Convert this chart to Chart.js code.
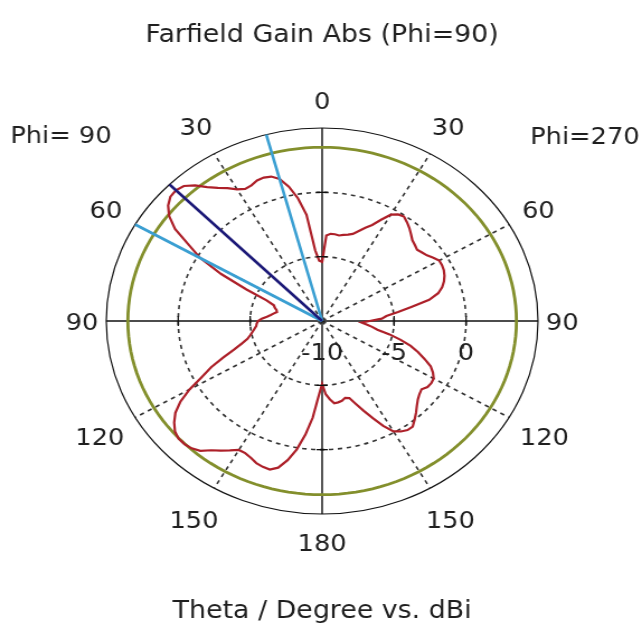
<!DOCTYPE html>
<html>
<head>
<meta charset="utf-8">
<title>Farfield Gain Abs (Phi=90)</title>
<script src="https://cdn.jsdelivr.net/npm/chart.js@4.4.1/dist/chart.umd.min.js"></script>
<style>
  html, body { margin: 0; padding: 0; background: #ffffff; overflow: hidden; }
  /* the polar plot is drawn slightly wider than tall */
  #wrap { width: 574px; height: 636px; transform: scaleX(1.1185); transform-origin: 0 0; }
  canvas { display: block; }
</style>
</head>
<body>
<div id="wrap"><canvas id="c" width="574" height="636"></canvas></div>
<script>
// Theta samples (degrees), shared by both cuts
const thetaDeg = [
  0, 2.5, 5, 7.5, 10, 12.5, 15, 17.5,
  20, 22.5, 25, 27.5, 30, 32.5, 35, 37.5,
  40, 42.5, 45, 47.5, 50, 52.5, 55, 57.5,
  60, 62.5, 65, 67.5, 70, 72.5, 75, 77.5,
  80, 82.5, 85, 87.5, 90, 92.5, 95, 97.5,
  100, 102.5, 105, 107.5, 110, 112.5, 115, 117.5,
  120, 122.5, 125, 127.5, 130, 132.5, 135, 137.5,
  140, 142.5, 145, 147.5, 150, 152.5, 155, 157.5,
  160, 162.5, 165, 167.5, 170, 172.5, 175, 177.5,
  180
];

// Gain (dBi) in the Phi=270 half-plane (right side)
const gainPhi270 = [
  -5.4, -3.35, -3.2, -3.2, -3.25, -3.15, -3.05, -2.9,
  -2.55, -2.15, -1.77, -1.13, -0.46, -0.18, -0.09, -0.32,
  -0.57, -0.86, -1.13, -1.26, -1.39, -1.25, -1.11, -0.84,
  -0.61, -0.61, -0.67, -0.8, -0.99, -1.25, -1.65, -2.38,
  -3.71, -4.68, -5.52, -5.85, -6.7, -7.25, -6.9, -6.5,
  -6.1, -5.2, -4.35, -3.55, -2.9, -2.3, -1.68, -1.32,
  -1.05, -1.01, -1.06, -1.29, -1.17, -0.98, -0.69, -0.34,
  0.0, 0.34, 0.35, 0.18, -0.09, -0.81, -1.67, -2.44,
  -3.14, -3.72, -3.82, -3.65, -3.58, -3.55, -3.9, -4.3,
  -5.1
];

// Gain (dBi) in the Phi=90 half-plane (left side)
const gainPhi90 = [
  -5.4, -5.3, -4.5, -1.68, -0.31, 0.69, 1.43, 1.77,
  1.86, 1.82, 1.63, 1.58, 1.82, 2.25, 2.63, 3.12,
  3.75, 4.23, 4.37, 4.3, 3.97, 3.4, 2.48, 0.95,
  -0.22, -2.09, -4.2, -5.82, -6.43, -6.55, -6.72, -6.78,
  -6.6, -6.4, -6.15, -5.8, -5.55, -5.45, -5.4, -5.25,
  -5.08, -4.88, -4.63, -4.14, -3.48, -2.55, -1.49, -0.58,
  0.64, 1.68, 2.45, 2.96, 3.35, 3.53, 3.53, 3.42,
  3.18, 2.66, 2.3, 1.93, 1.57, 1.58, 1.73, 1.95,
  2.06, 2.1, 1.8, 1.08, 0.13, -1.1, -2.45, -4.1,
  -5.1
];

// Axis annotation values
const angleTickLabels = [0, 30, 60, 90, 120, 150, 180];
const radialTickLabels = [-10, -5, 0];
const radialMin = -10;
const radialMax = 5;
const radialStep = 5;
const referenceLevel = 3.5;      // dBi, reference circle
const mainLobeTheta = 45;        // deg, Phi=90 side
const beamEdgeThetas = [15, 60]; // deg, Phi=90 side

// Colours
const textColor = '#1f1f1f';
const curveColor = '#ad2029';
const refColor = '#838f2c';
const mainLobeColor = '#1d1a78';
const beamEdgeColor = '#3a9fd2';
const fontFamily = '"DejaVu Sans", Verdana, sans-serif';

// Full circle, clockwise from the top: Phi=270 from theta 0 to 180, then Phi=90 from 180 back to 0
const lastIdx = thetaDeg.length - 1;
const labels = [
  ...thetaDeg.map(t => 'Phi=270 ' + t),
  ...thetaDeg.slice(1, lastIdx).reverse().map(t => 'Phi=90 ' + t)
];
const pointCount = labels.length;
const gainAround = [...gainPhi270, ...gainPhi90.slice(1, lastIdx).reverse()];

function indexRight(theta) { return thetaDeg.indexOf(theta); }
function indexLeft(theta) {
  const k = thetaDeg.indexOf(theta);
  return k === 0 ? 0 : (k === lastIdx ? lastIdx : pointCount - k);
}
function stepAngle(i) { return i * 360 / pointCount; }

function rayData(idx) {
  return labels.map((_, i) => (i === idx ? radialMax : radialMin));
}

const axisIdx = [0, 90, 180, 270].map(a => a * pointCount / 360);

const annotations = {
  id: 'polarAnnotations',
  afterDraw(chart) {
    const s = chart.scales.r;
    const ctx = chart.ctx;
    const R = s.drawingArea;
    ctx.save();

    // small tick marks on the main axes
    ctx.strokeStyle = '#111';
    ctx.lineWidth = 1.3;
    ctx.setLineDash([]);
    axisIdx.forEach(idx => {
      [-5, 0].forEach(v => {
        const p = s.getPointPositionForValue(idx, v);
        const px = -Math.sin(p.angle), py = Math.cos(p.angle);
        ctx.beginPath();
        ctx.moveTo(p.x - 5 * px, p.y - 5 * py);
        ctx.lineTo(p.x + 5 * px, p.y + 5 * py);
        ctx.stroke();
      });
    });

    ctx.fillStyle = textColor;
    ctx.font = '23px ' + fontFamily;
    ctx.textAlign = 'center';
    ctx.textBaseline = 'middle';

    // theta labels round the outside
    const seen = new Set();
    angleTickLabels.forEach(t => {
      [indexRight(t), indexLeft(t)].forEach(idx => {
        if (seen.has(idx)) return;
        seen.add(idx);
        const txt = String(t);
        const w = ctx.measureText(txt).width;
        const a = stepAngle(idx) * Math.PI / 180;
        const d = R + 7 + (w / 2) * Math.abs(Math.sin(a)) + 21 * Math.abs(Math.cos(a));
        const p = s.getPointPosition(idx, d);
        ctx.fillText(txt, p.x, p.y + 3);
      });
    });

    // dB labels below the horizontal axis
    radialTickLabels.forEach(v => {
      const x = s.xCenter + s.getDistanceFromCenterForValue(v);
      ctx.fillText(String(v), x, s.yCenter + 33);
    });

    // cut names
    ctx.fillText('Phi= 90', 54.5, 137);
    ctx.fillText('Phi=270', 523, 138);
    ctx.restore();
  }
};

new Chart(document.getElementById('c'), {
  type: 'radar',
  data: {
    labels: labels,
    datasets: [
      {
        label: 'Main lobe direction',
        data: rayData(indexLeft(mainLobeTheta)),
        borderColor: mainLobeColor,
        borderWidth: 2.6,
        order: 1
      },
      ...beamEdgeThetas.map(t => ({
        label: 'Angular width',
        data: rayData(indexLeft(t)),
        borderColor: beamEdgeColor,
        borderWidth: 2.6,
        order: 2
      })),
      {
        label: 'Farfield gain',
        data: gainAround,
        borderColor: curveColor,
        borderWidth: 2.2,
        order: 3
      },
      {
        label: 'Reference',
        data: labels.map(() => referenceLevel),
        borderColor: refColor,
        borderWidth: 2.8,
        order: 4
      }
    ]
  },
  options: {
    responsive: false,
    animation: false,
    events: [],
    layout: { padding: { left: 95, right: 93, top: 0, bottom: 0 } },
    elements: {
      point: { radius: 0, hoverRadius: 0 },
      line: { tension: 0, fill: false }
    },
    plugins: {
      legend: { display: false },
      tooltip: { enabled: false },
      title: {
        display: true,
        text: 'Farfield Gain Abs (Phi=90)',
        color: textColor,
        font: { family: fontFamily, size: 24, weight: 'normal' },
        padding: { top: 21.6, bottom: 77.6 }
      },
      subtitle: {
        display: true,
        position: 'bottom',
        text: 'Theta / Degree vs. dBi',
        color: textColor,
        font: { family: fontFamily, size: 24, weight: 'normal' },
        padding: { top: 83.6, bottom: 9.6 }
      }
    },
    scales: {
      r: {
        min: radialMin,
        max: radialMax,
        startAngle: 0,
        ticks: { display: false, stepSize: radialStep },
        pointLabels: { display: false },
        grid: {
          circular: true,
          color: c => (c.tick && c.tick.value === radialMax ? '#111111' : '#333333'),
          lineWidth: c => (c.tick && c.tick.value === radialMax ? 1.2 : 1.6)
        },
        border: {
          dash: c => (c.tick && c.tick.value === radialMax ? [] : [4, 4])
        },
        angleLines: {
          display: true,
          color: c => (stepAngle(c.index) % 90 === 0 ? '#111111' : '#333333'),
          lineWidth: c => (stepAngle(c.index) % 30 === 0 ? (stepAngle(c.index) % 90 === 0 ? 1.4 : 1.6) : 0),
          borderDash: c => (stepAngle(c.index) % 90 === 0 ? [] : [4, 4])
        }
      }
    }
  },
  plugins: [annotations]
});
</script>
</body>
</html>
